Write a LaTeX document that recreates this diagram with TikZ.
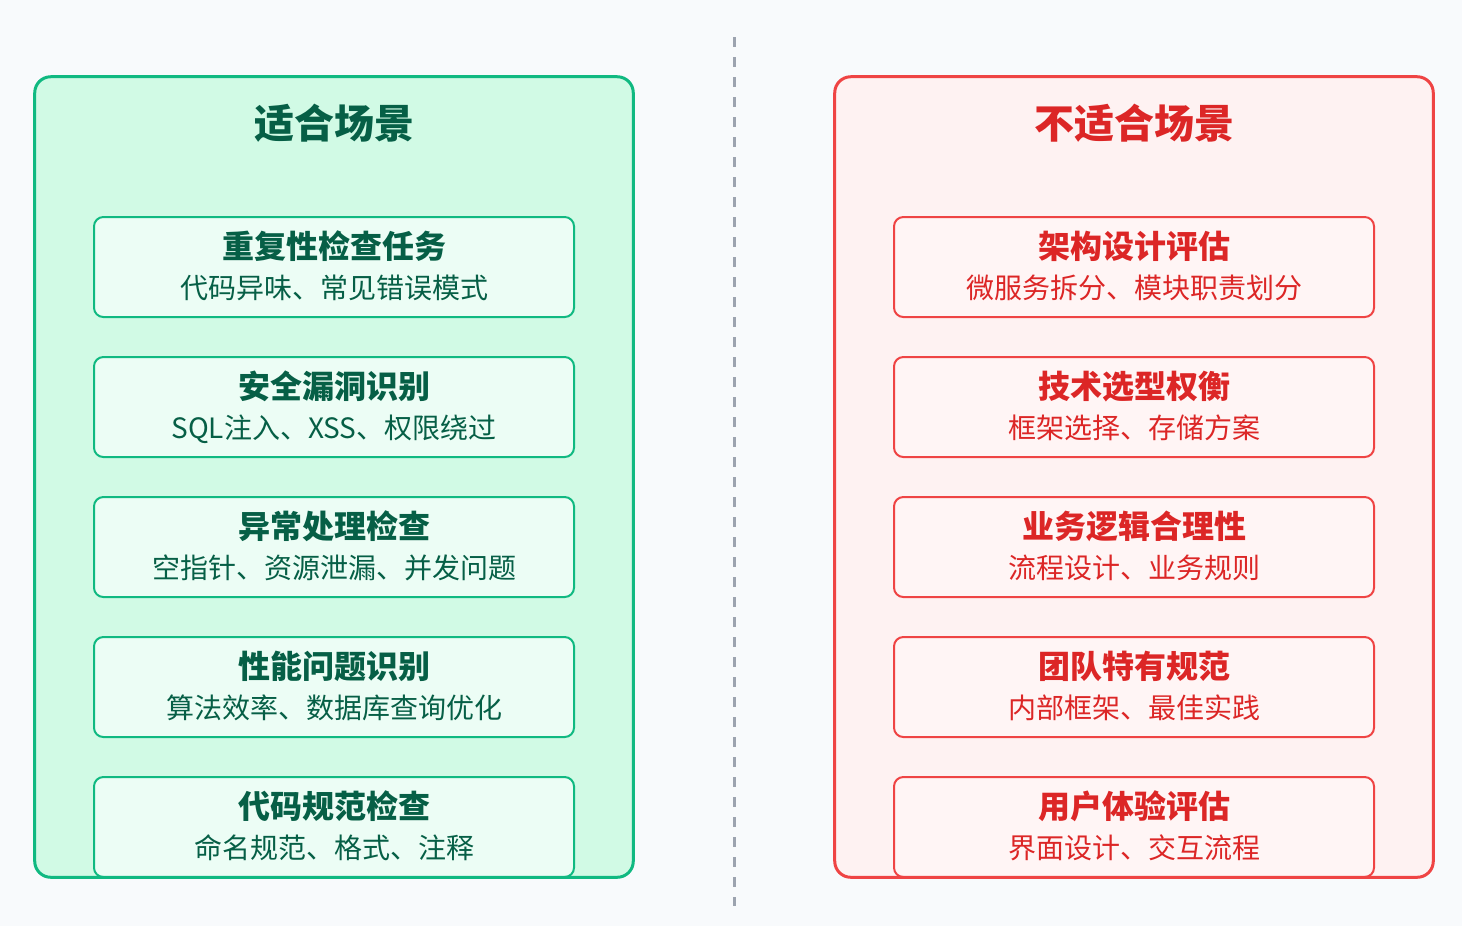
\documentclass[tikz,border=0pt]{standalone}
\usepackage{fontspec}
\setmainfont{Noto Sans CJK SC}

% palette
\definecolor{canvas}{HTML}{F8FAFC}
\definecolor{divgray}{HTML}{9CA3AF}
\definecolor{okline}{HTML}{10B981}
\definecolor{okfill}{HTML}{D1FAE5}
\definecolor{okitem}{HTML}{ECFDF5}
\definecolor{oktext}{HTML}{065F46}
\definecolor{noline}{HTML}{EF4444}
\definecolor{nofill}{HTML}{FEF2F2}
\definecolor{noitem}{HTML}{FFF5F5}
\definecolor{notext}{HTML}{DC2626}

\tikzset{
  panel/.style={inner sep=0pt, minimum width=448.5pt, minimum height=600pt},
  rim/.style={line width=2.25pt, rounded corners=12pt},
  itembox/.style={draw, line width=1.5pt, rounded corners=7pt, inner sep=0pt,
                  minimum width=360pt, minimum height=75pt},
  headtxt/.style={anchor=base, font=\fontsize{30}{36}\selectfont\bfseries},
  itemtxt/.style={anchor=base, font=\fontsize{24}{28}\selectfont\bfseries},
  subtxt/.style={anchor=base, font=\fontsize{21}{25}\selectfont}
}

\begin{document}
\begin{tikzpicture}[x=0.75pt, y=-0.75pt]
% Units are screen pixels, y pointing down
\fill[canvas] (0,0) rectangle (1462,926);
\useasboundingbox (0,0) rectangle (1462,926);

% Dashed divider
\coordinate (divtop) at (734,37);
\coordinate (divbot) at (734,906);
\draw[divgray, line width=2.25pt, dash pattern=on 7.5pt off 7.5pt] (divtop) -- (divbot);

% Panel backgrounds
\node[panel, fill=okfill, rounded corners=12pt] (okpanel) at (334,477) {};
\node[panel, fill=nofill, rounded corners=12pt] (nopanel) at (1134,477) {};

% Panel headings
\node[headtxt, text=oktext] (okhead) at (334,138) {适合场景};
\node[headtxt, text=notext] (nohead) at (1134,138) {不适合场景};

% Left column: suitable cases
\foreach \i/\t/\s in {1/重复性检查任务/代码异味、常见错误模式,
                      2/安全漏洞识别/SQL注入、XSS、权限绕过,
                      3/异常处理检查/空指针、资源泄漏、并发问题,
                      4/性能问题识别/算法效率、数据库查询优化,
                      5/代码规范检查/命名规范、格式、注释} {
  \pgfmathsetmacro\yc{267+140*(\i-1)}
  \node[itembox, draw=okline, fill=okitem] (ok\i) at (334,\yc) {};
  \node[itemtxt, text=oktext] (okt\i) at (334,\yc-9) {\t};
  \node[subtxt, text=oktext] (oks\i) at (334,\yc+31) {\s};
}

% Right column: unsuitable cases
\foreach \i/\t/\s in {1/架构设计评估/微服务拆分、模块职责划分,
                      2/技术选型权衡/框架选择、存储方案,
                      3/业务逻辑合理性/流程设计、业务规则,
                      4/团队特有规范/内部框架、最佳实践,
                      5/用户体验评估/界面设计、交互流程} {
  \pgfmathsetmacro\yc{267+140*(\i-1)}
  \node[itembox, draw=noline, fill=noitem] (no\i) at (1134,\yc) {};
  \node[itemtxt, text=notext] (not\i) at (1134,\yc-9) {\t};
  \node[subtxt, text=notext] (nos\i) at (1134,\yc+31) {\s};
}

% Panel outlines on top
\draw[rim, okline] (okpanel.north west) rectangle (okpanel.south east);
\draw[rim, noline] (nopanel.north west) rectangle (nopanel.south east);
\end{tikzpicture}
\end{document}
